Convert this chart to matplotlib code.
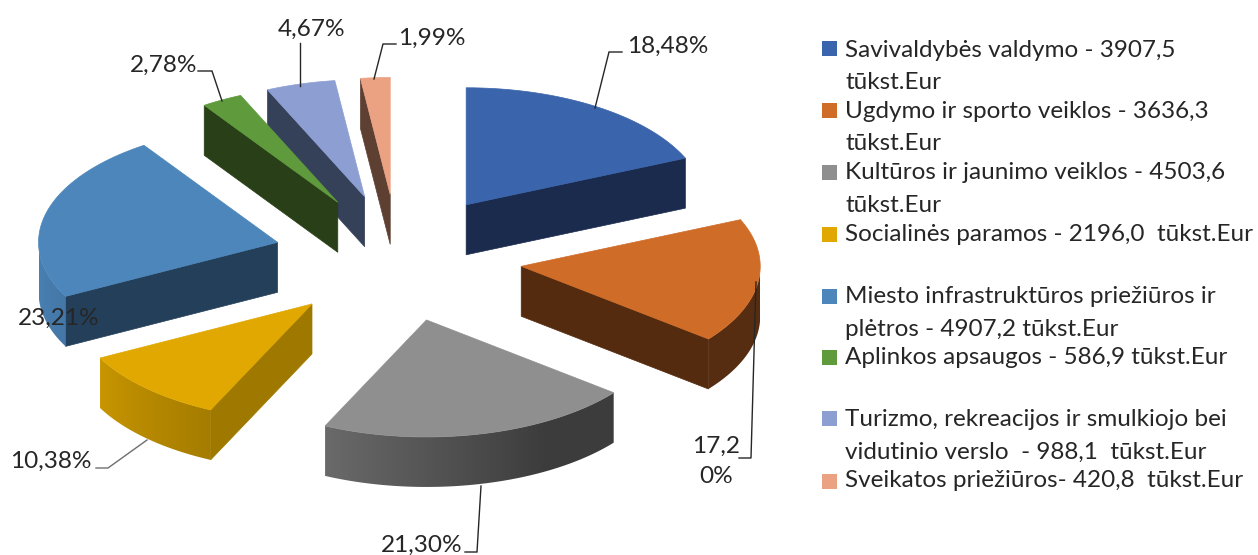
import numpy as np
import matplotlib
matplotlib.use("Agg")
import matplotlib.pyplot as plt
from matplotlib.colors import to_rgb
from matplotlib.patches import Polygon, Rectangle

plt.rcParams["font.family"] = ["Lato", "DejaVu Sans"]

# tūkst. Eur per program
VALUES = [3907.5, 3636.3, 4503.6, 2196.0, 4907.2, 586.9, 988.1, 420.8]
PCT_LABELS = ["18,48%", "17,2\n0%", "21,30%", "10,38%", "23,21%", "2,78%", "4,67%", "1,99%"]
LEGEND_LINES = [
    ["Savivaldybės valdymo - 3907,5", "tūkst.Eur"],
    ["Ugdymo ir sporto veiklos - 3636,3", "tūkst.Eur"],
    ["Kultūros ir jaunimo veiklos - 4503,6", "tūkst.Eur"],
    ["Socialinės paramos - 2196,0  tūkst.Eur"],
    ["Miesto infrastruktūros priežiūros ir", "plėtros - 4907,2 tūkst.Eur"],
    ["Aplinkos apsaugos - 586,9 tūkst.Eur"],
    ["Turizmo, rekreacijos ir smulkiojo bei", "vidutinio verslo  - 988,1  tūkst.Eur"],
    ["Sveikatos priežiūros- 420,8  tūkst.Eur"],
]

TOP_COLORS = ["#3a64ab", "#cf6c28", "#8f8f8f", "#e0a800", "#4c86bb", "#5f9a3c", "#8c9ed2", "#eba283"]
WALL_COLORS = ["#1a2b4e", "#542b0f", "#3c3c3c", "#9f7800", "#243f59", "#283f18", "#354059", "#5e4033"]

# pie geometry in pixels
CX, CY = 398, 258
RX, RY = 239, 117
DEPTH = 50
EXPLODE_X, EXPLODE_Y = 0.52, 0.544
DRAW_ORDER = [7, 6, 5, 0, 4, 1, 3, 2]

# x, baseline y, ha for every percent label
PCT_POS = [
    (627, 53, "left"), (716, 453, "center"), (381, 552, "left"), (10, 468, "left"),
    (18, 325, "left"), (130, 72, "left"), (278, 36, "left"), (398, 45, "left"),
]
LEADERS = [
    [(595, 108), (609, 52), (622, 52)],
    [(739, 458), (751, 458), (756, 282)],
    [(465, 552), (477, 552), (481, 486)],
    [(96, 468), (108, 468), (147, 440)],
    [(198, 71), (212, 71), (222, 101)],
    [(300, 43), (300, 86)],
    [(374, 79), (383, 44), (396, 44)],
]
LEADER_COLORS = ["#262626", "#262626", "#262626", "#6e6e6e", "#262626", "#262626", "#262626"]

LEGEND_BASELINES = [[57, 89], [118, 150], [179, 212], [241], [303, 336], [364], [426, 459], [487]]
LEGEND_SQUARES = [48, 110, 172, 234, 296, 357, 418, 481]
LEGEND_SIZE = 17.5
PCT_SIZE = 17.6
TEXT_COLOR = "#262626"


def arc(ax0, ay0, a0, a1, n=80):
    # angles in degrees, clockwise from the top
    t = np.radians(np.linspace(a0, a1, n))
    return np.column_stack([ax0 + RX * np.sin(t), ay0 - RY * np.cos(t)])


def wall_shade(a):
    # outer wall gets lighter going round to the left side
    return np.interp(a, [90, 150, 205, 242, 270], [0.42, 0.42, 0.74, 0.89, 0.97])


def draw_outer_wall(ax, apex, a0, a1, color, z):
    lo, hi = max(a0, 90), min(a1, 270)
    if lo >= hi:
        return
    pts = arc(apex[0], apex[1], lo, hi)
    outline = np.vstack([pts, pts[::-1] + [0, DEPTH]])
    clip = Polygon(outline, transform=ax.transData, facecolor="none", edgecolor="none")
    ax.add_patch(clip)

    # gradient by column, the angle comes back from x on the lower half of the ellipse
    xs = np.linspace(pts[:, 0].min(), pts[:, 0].max(), 300)
    angles = 180 - np.degrees(np.arcsin(np.clip((xs - apex[0]) / RX, -1, 1)))
    row = np.outer(wall_shade(angles), to_rgb(color))[np.newaxis, :, :]
    ax.imshow(row, extent=[xs[0], xs[-1], outline[:, 1].max(), outline[:, 1].min()],
              aspect="auto", clip_path=clip, zorder=z, interpolation="bilinear")


def draw_slice(ax, i, start, end, z):
    mid = np.radians((start + end) / 2)
    apex = np.array([CX + EXPLODE_X * RX * np.sin(mid), CY - EXPLODE_Y * RY * np.cos(mid)])
    outer = arc(apex[0], apex[1], start, end)

    # cut faces: only the ones turned towards the viewer
    if np.sin(np.radians(start)) < 0:
        cut = outer[0]
    elif np.sin(np.radians(end)) > 0:
        cut = outer[-1]
    else:
        cut = None
    if cut is not None:
        ax.add_patch(Polygon([apex, cut, cut + [0, DEPTH], apex + [0, DEPTH]], zorder=z,
                             facecolor=WALL_COLORS[i], edgecolor=WALL_COLORS[i], linewidth=0.5))

    draw_outer_wall(ax, apex, start, end, TOP_COLORS[i], z)
    ax.add_patch(Polygon(np.vstack([apex, outer]), facecolor=TOP_COLORS[i], zorder=z + 0.5,
                         edgecolor=TOP_COLORS[i], linewidth=0.5))


def draw_legend(ax):
    for i, lines in enumerate(LEGEND_LINES):
        ax.add_patch(Rectangle((822, LEGEND_SQUARES[i] - 7.5), 15, 15, facecolor=TOP_COLORS[i],
                               edgecolor="none"))
        for line, y in zip(lines, LEGEND_BASELINES[i]):
            ax.text(845, y, line, fontsize=LEGEND_SIZE, color=TEXT_COLOR, va="baseline", ha="left")


fig = plt.figure(figsize=(12.58, 5.55), dpi=100)
ax = fig.add_axes([0, 0, 1, 1])

bounds = np.concatenate([[0], np.cumsum(VALUES)]) / np.sum(VALUES) * 360
for k, i in enumerate(DRAW_ORDER):
    draw_slice(ax, i, bounds[i], bounds[i + 1], 2 + k)

for line, col in zip(LEADERS, LEADER_COLORS):
    xs, ys = zip(*line)
    ax.plot(xs, ys, color=col, lw=1.0, solid_joinstyle="miter", zorder=20)

for label, (x, y, ha) in zip(PCT_LABELS, PCT_POS):
    for k, part in enumerate(label.split("\n")):
        ax.text(x, y + k * 30, part, fontsize=PCT_SIZE, color=TEXT_COLOR, ha=ha, va="baseline", zorder=21)

draw_legend(ax)

# imshow resets the limits, so set them last
ax.set_xlim(0, 1258)
ax.set_ylim(555, 0)
ax.axis("off")

fig.savefig("out.png", dpi=100, facecolor="white")
